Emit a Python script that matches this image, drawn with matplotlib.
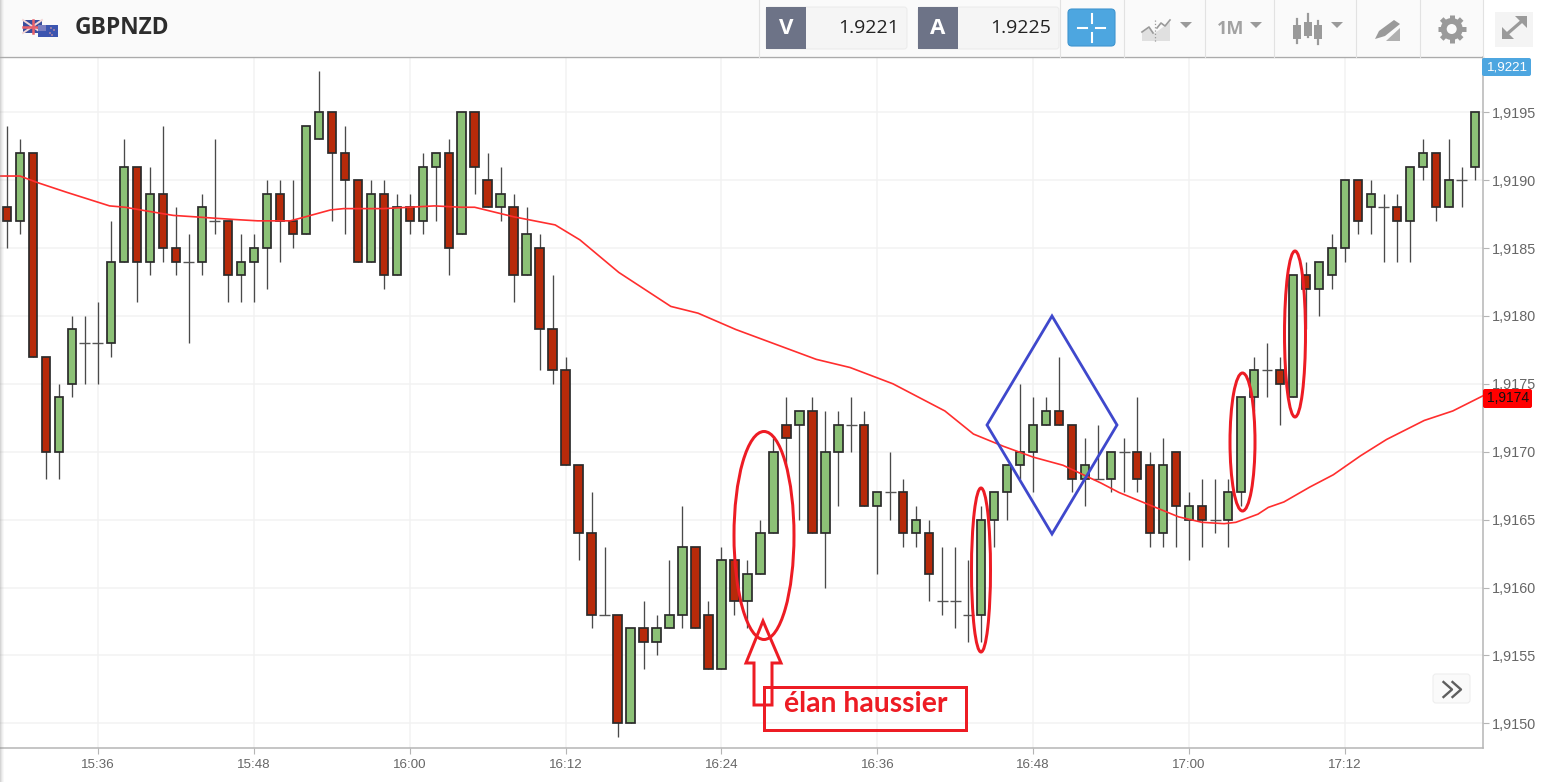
import matplotlib
matplotlib.use("Agg")
import matplotlib.pyplot as plt
from matplotlib.patches import Rectangle, FancyBboxPatch, Ellipse, Polygon, Circle

plt.rcParams["font.family"] = ["Liberation Sans", "DejaVu Sans"]

# ---------- data ----------
symbol = "GBPNZD"
bid_label = "V"; ask_label = "A"
bid_price = "1.9221"; ask_price = "1.9225"
last_tag = "1,9221"; ma_tag = "1,9174"
note = "élan haussier"

opens = [1.9188,1.9187,1.9192,1.9177,1.9170,1.9175,1.9178,1.9178,1.9178,1.9184,
         1.9191,1.9184,1.9189,1.9185,1.9184,1.9184,1.9187,1.9187,1.9183,1.9184,
         1.9185,1.9189,1.9187,1.9186,1.9193,1.9195,1.9192,1.9190,1.9184,1.9189,
         1.9183,1.9188,1.9187,1.9191,1.9192,1.9186,1.9195,1.9190,1.9188,1.9188,
         1.9183,1.9185,1.9179,1.9176,1.9169,1.9164,1.9158,1.9158,1.9150,1.9157,
         1.9156,1.9157,1.9158,1.9163,1.9158,1.9154,1.9162,1.9159,1.9161,1.9164,
         1.9172,1.9172,1.9173,1.9164,1.9170,1.9172,1.9172,1.9166,1.9167,1.9167,
         1.9164,1.9164,1.9159,1.9159,1.9158,1.9158,1.9165,1.9167,1.9169,1.9170,
         1.9172,1.9173,1.9172,1.9168,1.9168,1.9168,1.9170,1.9170,1.9169,1.9164,
         1.9170,1.9165,1.9166,1.9165,1.9165,1.9167,1.9174,1.9176,1.9176,1.9174,
         1.9183,1.9182,1.9183,1.9185,1.9190,1.9188,1.9188,1.9188,1.9187,1.9191,
         1.9192,1.9188,1.9190,1.9191]
highs = [1.9194,1.9193,1.9192,1.9177,1.9175,1.9180,1.9180,1.9181,1.9187,1.9193,
         1.9191,1.9191,1.9194,1.9188,1.9186,1.9189,1.9193,1.9187,1.9186,1.9186,
         1.9190,1.9190,1.9190,1.9194,1.9198,1.9195,1.9194,1.9190,1.9190,1.9190,
         1.9189,1.9189,1.9192,1.9192,1.9193,1.9195,1.9195,1.9192,1.9191,1.9189,
         1.9188,1.9186,1.9183,1.9177,1.9169,1.9167,1.9163,1.9158,1.9157,1.9159,
         1.9158,1.9162,1.9166,1.9163,1.9159,1.9163,1.9162,1.9162,1.9165,1.9171,
         1.9174,1.9173,1.9174,1.9173,1.9173,1.9174,1.9173,1.9167,1.9170,1.9168,
         1.9166,1.9165,1.9163,1.9163,1.9162,1.9166,1.9167,1.9169,1.9175,1.9174,
         1.9174,1.9177,1.9172,1.9171,1.9172,1.9170,1.9171,1.9174,1.9170,1.9171,
         1.9170,1.9167,1.9168,1.9168,1.9168,1.9174,1.9177,1.9178,1.9177,1.9183,
         1.9184,1.9184,1.9186,1.9190,1.9190,1.9190,1.9189,1.9189,1.9191,1.9193,
         1.9192,1.9193,1.9191,1.9195]
lows = [1.9185,1.9186,1.9177,1.9168,1.9168,1.9174,1.9175,1.9175,1.9177,1.9184,
        1.9181,1.9183,1.9184,1.9183,1.9178,1.9183,1.9186,1.9181,1.9181,1.9181,
        1.9182,1.9184,1.9185,1.9186,1.9193,1.9187,1.9186,1.9184,1.9184,1.9182,
        1.9183,1.9186,1.9186,1.9187,1.9183,1.9186,1.9189,1.9188,1.9187,1.9181,
        1.9183,1.9176,1.9175,1.9169,1.9162,1.9157,1.9158,1.9149,1.9150,1.9154,
        1.9155,1.9157,1.9157,1.9157,1.9154,1.9154,1.9158,1.9157,1.9161,1.9164,
        1.9169,1.9165,1.9164,1.9160,1.9166,1.9170,1.9166,1.9161,1.9165,1.9163,
        1.9163,1.9159,1.9158,1.9157,1.9156,1.9156,1.9163,1.9165,1.9168,1.9167,
        1.9172,1.9172,1.9167,1.9166,1.9168,1.9167,1.9167,1.9167,1.9163,1.9163,
        1.9163,1.9162,1.9163,1.9164,1.9163,1.9166,1.9173,1.9174,1.9172,1.9174,
        1.9179,1.9180,1.9182,1.9184,1.9186,1.9186,1.9184,1.9184,1.9184,1.9190,
        1.9187,1.9188,1.9188,1.9190]
closes = [1.9187,1.9192,1.9177,1.9170,1.9174,1.9179,1.9178,1.9178,1.9184,1.9191,
          1.9184,1.9189,1.9185,1.9184,1.9184,1.9188,1.9187,1.9183,1.9184,1.9185,
          1.9189,1.9187,1.9186,1.9194,1.9195,1.9192,1.9190,1.9184,1.9189,1.9183,
          1.9188,1.9187,1.9191,1.9192,1.9185,1.9195,1.9191,1.9188,1.9189,1.9183,
          1.9186,1.9179,1.9176,1.9169,1.9164,1.9158,1.9158,1.9150,1.9157,1.9156,
          1.9157,1.9158,1.9163,1.9157,1.9154,1.9162,1.9159,1.9161,1.9164,1.9170,
          1.9171,1.9173,1.9164,1.9170,1.9172,1.9172,1.9166,1.9167,1.9167,1.9164,
          1.9165,1.9161,1.9159,1.9159,1.9158,1.9165,1.9167,1.9169,1.9170,1.9172,
          1.9173,1.9172,1.9168,1.9169,1.9168,1.9170,1.9170,1.9168,1.9164,1.9169,
          1.9166,1.9166,1.9165,1.9165,1.9167,1.9174,1.9176,1.9176,1.9175,1.9183,
          1.9182,1.9184,1.9185,1.9190,1.9187,1.9189,1.9188,1.9187,1.9191,1.9192,
          1.9188,1.9190,1.9190,1.9195]

ma_index = [-0.5,1.0,2.4,4.6,7.9,9.1,10.3,12.8,14.4,15.9,17.5,19.3,21.8,22.6,24.9,25.9,29,32.9,
            35,36,39,42.2,44.1,47.1,51.1,53.2,56.1,59.2,62.3,64.9,68.2,72.2,74.4,76.7,79,
            81.3,84.2,85.6,87.9,90.2,92,93.7,94.6,96.3,97.1,98.3,100.3,102.1,104.2,106.2,
            109.1,111.3,113.8]
ma_value = [1.91903,1.91903,1.91898,1.91891,1.91881,1.91880,1.91878,1.91874,1.91873,1.91872,
            1.91871,1.91870,1.91870,1.91872,1.91878,1.91879,1.91879,1.91881,1.91880,1.91880,
            1.91873,1.91867,1.91856,1.91832,1.91807,1.91802,1.91790,1.91779,1.91768,1.91762,
            1.91750,1.91730,1.91713,1.91704,1.91696,1.91690,1.91677,1.91670,1.91661,1.91652,
            1.91648,1.91647,1.91648,1.91654,1.91659,1.91663,1.91674,1.91683,1.91697,1.91709,
            1.91723,1.91730,1.91742]

price_ticks = [1.9150,1.9155,1.9160,1.9165,1.9170,1.9175,1.9180,1.9185,1.9190,1.9195]
time_tick_index = [7,19,31,43,55,67,79,91,103]
time_labels = ["15:36","15:48","16:00","16:12","16:24","16:36","16:48","17:00","17:12"]

# ---------- pixel geometry ----------
W, H = 1545, 782
PX0, PX1, PY0, PY1 = 0, 1483, 57, 747.5
SX, SY = 12.99, 13.58
fig = plt.figure(figsize=(W/100, H/100), dpi=100, facecolor="white")
ax = fig.add_axes([PX0/W, 1-PY1/H, (PX1-PX0)/W, (PY1-PY0)/H])
ax.set_xlim((PX0-7)/SX, (PX1-7)/SX)
ax.set_ylim(1.9195-(PY1-112.2)/SY/10000, 1.9195+(112.2-PY0)/SY/10000)

GREEN, RED, EDGE, WICK = "#8CC176", "#B72A0A", "#2b2b2b", "#4a4a4a"
ax.set_axisbelow(True)
ax.grid(True, color="#f2f2f2", lw=1.1)
ax.set_yticks(price_ticks)
ax.set_yticklabels([f"{p:.4f}".replace(".", ",") for p in price_ticks])
ax.set_xticks(time_tick_index)
ax.set_xticklabels(time_labels)
ax.yaxis.tick_right()
ax.tick_params(axis="both", labelsize=10.4, colors="#b5b5b5", labelcolor="#666666", length=4.5, width=0.8, pad=2)
ax.tick_params(axis="x", labelsize=9.6, pad=4)
for s in ("top", "left"):
    ax.spines[s].set_visible(False)
for s in ("right", "bottom"):
    ax.spines[s].set_color("#b5b5b5"); ax.spines[s].set_linewidth(1.1)

# candles
for i, (o, h, l, c) in enumerate(zip(opens, highs, lows, closes)):
    ax.vlines(i, l, h, color=WICK, lw=0.95, zorder=2)
    if o == c:
        ax.hlines(o, i-0.42, i+0.42, color="#555555", lw=1.0, zorder=2)
    else:
        ax.bar(i, abs(c-o), bottom=min(o, c), width=0.64, color=GREEN if c > o else RED,
               edgecolor=EDGE, linewidth=1.25, zorder=3)
ax.plot(ma_index, ma_value, color="#FF2E2E", lw=1.2, zorder=4, solid_joinstyle="round")

# ---------- overlay in pixels ----------
ov = fig.add_axes([0, 0, 1, 1], facecolor="none", zorder=5)
ov.set_xlim(0, W); ov.set_ylim(H, 0); ov.axis("off")
px = 0.72  # points per pixel at dpi 100

def rect(x0, y0, x1, y1, fc, ec="none", lw=0, z=1, rounded=0):
    if rounded:
        p = FancyBboxPatch((x0+rounded, y0+rounded), x1-x0-2*rounded, y1-y0-2*rounded,
                           boxstyle=f"round,pad={rounded},rounding_size={rounded}",
                           fc=fc, ec=ec, lw=lw, zorder=z)
    else:
        p = Rectangle((x0, y0), x1-x0, y1-y0, fc=fc, ec=ec, lw=lw, zorder=z)
    ov.add_patch(p)

# header
rect(0, 0, 1483, 56, "#fafafa")
ov.plot([0, 1483], [56.5, 56.5], color="#ababab", lw=1.0, zorder=2)
for k, a in enumerate([0.35, 0.22, 0.12, 0.05]):
    rect(k, 0, k+1, H, "#888888")
    ov.patches[-1].set_alpha(a)
for xs in [759, 1060, 1124, 1205, 1274, 1356, 1420, 1483]:
    ov.plot([xs, xs], [0, 57], color="#e2e2e2", lw=0.8, zorder=2)

# flags
rect(23, 20, 42, 33, "#3a4f9e", z=3)
ov.plot([23, 42], [20, 33], color="#f3d6d6", lw=1.4, zorder=4)
ov.plot([23, 42], [33, 20], color="#f3d6d6", lw=1.4, zorder=4)
ov.plot([32.5, 32.5], [20, 33], color="#e8606a", lw=1.8, zorder=4)
ov.plot([23, 42], [26.5, 26.5], color="#e8606a", lw=1.8, zorder=4)
rect(38, 25, 58, 37, "#3c55b0", z=5)
rect(38, 25, 46, 31, "#7b7fc0", z=6)
for cx, cy in [(51, 28), (54, 30), (50, 33), (52, 35)]:
    ov.add_patch(Circle((cx, cy), 0.8, fc="#e9a0a0", ec="none", zorder=6))
ov.text(75, 28, symbol, fontsize=16.4, fontweight="bold", family="Open Sans", color="#2d2d2d",
        va="center", ha="left", zorder=6)

# V / A boxes
for x0, x1, x2, lab, val in [(766, 806, 907, bid_label, bid_price), (918, 958, 1059, ask_label, ask_price)]:
    rect(x0, 7, x2, 49, "#f5f5f5", ec="#ececec", lw=0.8, z=3, rounded=3)
    rect(x0, 7, x1, 49, "#6D7387", z=4)
    ov.text((x0+x1)/2, 28, lab, color="white", fontsize=16, fontweight="bold", family="Open Sans",
            ha="center", va="center", zorder=5)
    ov.text(x2-8, 28, val, color="#222222", fontsize=14, family="Open Sans", ha="right", va="center", zorder=5)

# crosshair button
rect(1068, 9, 1115, 46, "#4DA6E0", ec="#3f95cf", lw=0.8, z=3, rounded=4)
for a, b in [((1078, 28), (1087, 28)), ((1096, 28), (1105, 28)), ((1091.5, 14), (1091.5, 23)), ((1091.5, 33), (1091.5, 42))]:
    ov.plot([a[0], b[0]], [a[1], b[1]], color="white", lw=1.5, zorder=5)

ICON = "#9a9a9a"
# area chart icon
ov.add_patch(Polygon([(1142, 41), (1142, 33), (1149, 28), (1155, 33), (1170, 22), (1170, 41)], fc="#e0e0e0", ec="none", zorder=3))
ov.plot([1142, 1149, 1153], [32, 27, 33], color=ICON, lw=1.2, zorder=4)
ov.plot([1157, 1161, 1165, 1170], [28, 23, 26, 20], color=ICON, lw=1.2, zorder=4)
ov.plot([1154.5, 1154.5], [20, 42], color=ICON, lw=0.9, ls=":", zorder=4)
def caret(cx, cy=25):
    ov.add_patch(Polygon([(cx-6, cy-3), (cx+6, cy-3), (cx, cy+3)], fc=ICON, ec="none", zorder=4))
caret(1186)
ov.text(1231, 28.5, "1M", color="#a2a2a2", fontsize=13, fontweight="bold", family="Open Sans", ha="center", va="center", zorder=4)
caret(1256)
# candle icon
for cx, t, b, yt, yb in [(1297, 19, 43, 25, 39), (1307.5, 14, 37, 22, 36), (1318, 21, 44, 25, 39)]:
    ov.plot([cx, cx], [t, b], color=ICON, lw=1.6, zorder=4)
    rect(cx-4, yt, cx+4, yb, ICON, z=5)
caret(1337)
# drawing icon
ov.add_patch(Polygon([(1375, 39), (1379, 31), (1394, 20), (1400, 24), (1385, 36)], fc=ICON, ec="none", zorder=4))
ov.add_patch(Polygon([(1386, 41), (1400, 28), (1400, 41)], fc="#b0b0b0", ec="none", zorder=4))
# gear
for dx, dy in [(0, 14), (14, 0), (10, 10), (10, -10)]:
    ov.plot([1451.7-dx, 1451.7+dx], [29-dy, 29+dy], color=ICON, lw=5*px, zorder=4, solid_capstyle="butt")
ov.add_patch(Circle((1451.7, 29), 11, fc=ICON, ec="none", zorder=5))
ov.add_patch(Circle((1451.7, 29), 5, fc="#fafafa", ec="none", zorder=6))
# expand
rect(1495, 12, 1533, 47, "#f4f4f4", z=3)
ov.add_patch(Polygon([(1527, 16), (1527, 28), (1515, 16)], fc=ICON, ec="none", zorder=4))
ov.add_patch(Polygon([(1502, 39), (1502, 27), (1514, 39)], fc=ICON, ec="none", zorder=4))
ov.plot([1507, 1522], [34, 21], color=ICON, lw=3.2*px, zorder=4)

# price tags
rect(1482, 58, 1531, 76, "#4DA6E0", z=6, rounded=2)
ov.text(1507, 67, last_tag, color="white", fontsize=9.6, ha="center", va="center", zorder=7)
rect(1483, 389, 1532, 408, "#FF0000", z=6, rounded=2)
ov.text(1508, 398.5, ma_tag, color="#111111", fontsize=10, ha="center", va="center", zorder=7)

# scroll button
rect(1433, 674, 1470, 703, "#fafafa", ec="#eeeeee", lw=0.8, z=3, rounded=3)
for dx in (0, 9):
    ov.plot([1443.5+dx, 1452+dx, 1443.5+dx], [682, 689.5, 697], color="#5f5f5f", lw=1.7, zorder=4)

# annotations
RED_A = "#ED1C24"
for cx, cy, w, h in [(764, 535.5, 60, 208), (981, 570, 19, 164), (1242.5, 442, 25, 138), (1295, 334, 21, 166)]:
    ov.add_patch(Ellipse((cx, cy), w, h, fc="none", ec=RED_A, lw=3*px, zorder=6))
ov.add_patch(Polygon([(1052, 316), (1117, 425), (1052, 534), (987, 425)], closed=True, fc="none", ec="#3F48CC", lw=2.8*px, zorder=6))
ov.add_patch(Polygon([(763, 621), (781, 663), (772, 663), (772, 705), (754, 705), (754, 663), (746, 663)],
                     closed=True, fc="none", ec=RED_A, lw=3*px, zorder=6))
rect(764, 686.5, 966, 729.5, "none", ec=RED_A, lw=3*px, z=6)
ov.text(866, 704, note, color=RED_A, fontsize=20.4, fontweight="bold", family="Lato", ha="center", va="center", zorder=7)

fig.savefig("out.png", dpi=100, facecolor="white")
